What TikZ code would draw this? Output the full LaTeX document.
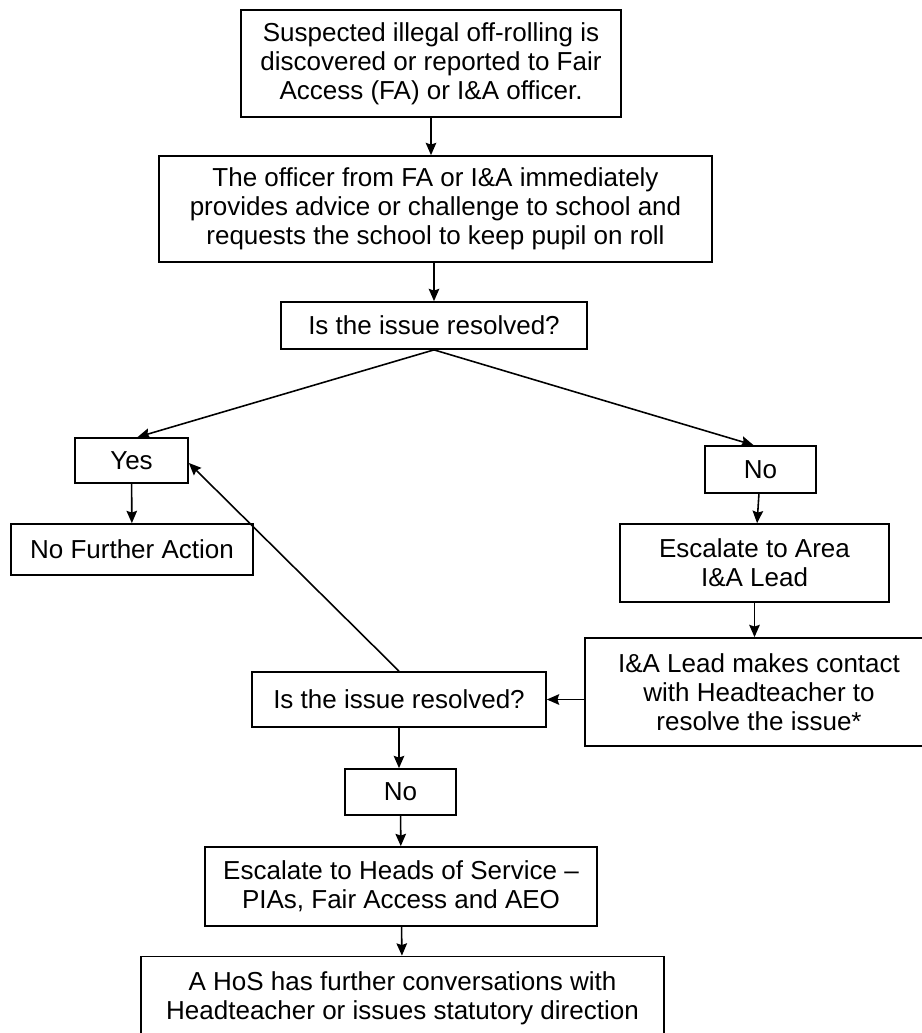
\documentclass[tikz,border=0pt]{standalone}
\usepackage{fontspec}
\setmainfont{Liberation Sans}
\usetikzlibrary{arrows.meta}
\begin{document}
\begin{tikzpicture}[x=0.02cm, y=-0.02cm,
  box/.style={draw, line width=1pt, align=center, inner sep=0pt, font=\fontsize{14.8}{16.6}\selectfont},
  link/.style={-{Stealth[length=7pt, width=6pt, inset=1pt]}, line width=0.9pt}]
  \useasboundingbox (0,0) rectangle (921,1033);
  \node[box, minimum width=7.6cm, minimum height=2.14cm] (report) at (431,63.5)
    {Suspected illegal off-rolling is\\discovered or reported to Fair\\Access (FA) or I\&A officer.};
  \node[box, minimum width=11.06cm, minimum height=2.12cm] (advice) at (435.5,209)
    {The officer from FA or I\&A immediately\\provides advice or challenge to school and\\requests the school to keep pupil on roll};
  \node[box, minimum width=6.12cm, minimum height=0.94cm] (resolvedA) at (434,325.5) {Is the issue resolved?};
  \node[box, minimum width=2.26cm, minimum height=0.9cm] (yes) at (131.5,460.5) {Yes};
  \node[box, minimum width=4.84cm, minimum height=1.02cm] (nfa) at (132,549.5) {No Further Action};
  \node[box, minimum width=2.22cm, minimum height=0.94cm] (noA) at (760.5,469.5) {No};
  \node[box, minimum width=5.38cm, minimum height=1.56cm] (area) at (754.5,563) {Escalate to Area\\I\&A Lead};
  \node[box, minimum width=6.96cm, minimum height=2.16cm] (contact) at (759,692)
    {I\&A Lead makes contact\\with Headteacher to\\resolve the issue*};
  \node[box, minimum width=5.88cm, minimum height=1.1cm] (resolvedB) at (399,699.5) {Is the issue resolved?};
  \node[box, minimum width=2.22cm, minimum height=0.92cm] (noB) at (400.5,792) {No};
  \node[box, minimum width=7.84cm, minimum height=1.58cm] (hos) at (401,886.5)
    {Escalate to Heads of Service --\\PIAs, Fair Access and AEO};
  \node[box, minimum width=10.46cm, minimum height=1.66cm] (direction) at (402.5,998)
    {A HoS has further conversations with\\Headteacher or issues statutory direction};

  \draw[link] (report.south) -- (report.south |- advice.north);
  \draw[link] (advice.south -| resolvedA) -- (resolvedA);
  \draw[link] (resolvedA.south) -- ([xshift=0.12cm]yes.north);
  \draw[link] (resolvedA.south) -- ([xshift=-0.14cm]noA.north);
  \draw[link] (yes) -- (nfa);
  \draw[link] (noA) -- (area);
  \draw[link] (area) -- (contact.north -| area);
  \draw[link] (contact.west |- resolvedB) -- (resolvedB);
  \draw[link] (resolvedB.north) -- ([yshift=-0.05cm]yes.east);
  \draw[link] (resolvedB.south) -- (resolvedB.south |- noB.north);
  \draw[link] (noB) -- (hos);
  \draw[link] (hos) -- (direction);
\end{tikzpicture}
\end{document}
